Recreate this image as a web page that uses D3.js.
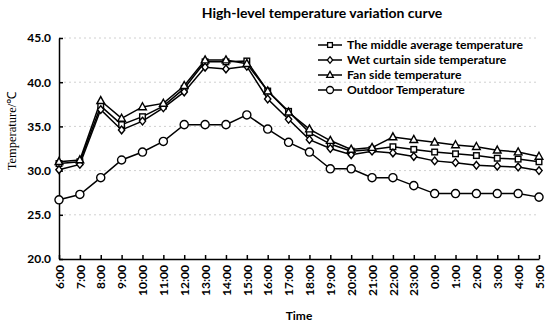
<!DOCTYPE html>
<html>
<head>
<meta charset="utf-8">
<script src="https://cdn.jsdelivr.net/npm/d3@7"></script>
<style>
  body { margin: 0; background: #fff; }
  .axis text { font-family: Lato, "Open Sans", sans-serif; font-weight: bold; font-size: 12px; fill: #000; }
  .axis path, .axis line { stroke: #000; stroke-width: 1.5; }
</style>
</head>
<body>
<div class="chart"></div>
<script>
const hours = ["6:00","7:00","8:00","9:00","10:00","11:00","12:00","13:00","14:00","15:00","16:00","17:00",
  "18:00","19:00","20:00","21:00","22:00","23:00","0:00","1:00","2:00","3:00","4:00","5:00"];
const middleAvg = [30.8,31.0,37.3,35.2,36.1,37.3,39.3,42.3,42.3,42.4,39.0,36.7,34.3,33.0,32.2,32.4,32.7,32.4,32.1,31.9,31.7,31.4,31.3,31.0];
const wetCurtain = [30.1,30.7,36.9,34.6,35.6,37.1,38.9,41.7,41.5,41.8,38.1,35.8,33.5,32.5,31.8,32.2,32.0,31.6,31.1,30.9,30.6,30.5,30.4,30.0];
const fanSide = [31.0,31.2,37.9,35.9,37.2,37.6,39.6,42.5,42.5,42.1,39.0,36.6,34.7,33.4,32.4,32.6,33.8,33.5,33.2,32.9,32.7,32.3,32.1,31.6];
const outdoor = [26.7,27.3,29.2,31.2,32.1,33.3,35.2,35.2,35.2,36.3,34.7,33.2,32.1,30.2,30.2,29.2,29.2,28.3,27.4,27.4,27.4,27.4,27.4,27.0];
const seriesNames = ["The middle average temperature","Wet curtain side temperature","Fan side temperature","Outdoor Temperature"];
const yTicks = [20,25,30,35,40,45];

const seriesData = [middleAvg, wetCurtain, fanSide, outdoor];
const markers = ["square","diamond","triangle","circle"];

const width = 550, height = 327;
const margin = {top: 38, left: 59, right: 11, bottom: 68};

const svg = d3.select('.chart')
  .append('svg')
  .attr('width', width)
  .attr('height', height);

const xScale = d3.scalePoint()
  .domain(hours)
  .range([margin.left, width - margin.right]);

const yScale = d3.scaleLinear()
  .domain([20, 45])
  .range([height - margin.bottom, margin.top]);

// grid lines
svg.append("g")
  .selectAll("line")
  .data(yTicks.slice(1))
  .enter()
  .append("line")
  .attr("x1", margin.left)
  .attr("x2", width - margin.right)
  .attr("y1", d => yScale(d))
  .attr("y2", d => yScale(d))
  .attr("stroke", "#d0d0d0")
  .attr("stroke-width", 1)
  .attr("stroke-dasharray", "2,3");

const xAxis = d3.axisBottom(xScale).tickSizeInner(-4).tickSizeOuter(0).tickPadding(4);
const yAxis = d3.axisLeft(yScale).tickValues(yTicks).tickFormat(d3.format(".1f")).tickSizeInner(-4).tickSizeOuter(0).tickPadding(8);

svg.append("g")
  .attr("class", "axis x-axis")
  .attr("transform", "translate(0," + (height - margin.bottom) + ")")
  .call(xAxis)
  .selectAll("text")
  .attr("transform", "rotate(-90)")
  .attr("text-anchor", "end")
  .attr("dy", "0.35em")
  .attr("x", -6)
  .attr("y", 0);

svg.append("g")
  .attr("class", "axis y-axis")
  .attr("transform", "translate(" + margin.left + ",0)")
  .call(yAxis);

// marker shapes
function drawMarker(sel, type, s) {
  if (type === "circle") {
    sel.append("circle").attr("r", s * 0.58);
  } else if (type === "square") {
    sel.append("rect").attr("x", -s * 0.4).attr("y", -s * 0.4).attr("width", s * 0.8).attr("height", s * 0.8);
  } else if (type === "diamond") {
    sel.append("path").attr("d", `M0,${-s*0.55}L${s*0.45},0L0,${s*0.55}L${-s*0.45},0Z`);
  } else {
    sel.append("path").attr("d", `M0,${-s*0.6}L${s*0.55},${s*0.4}L${-s*0.55},${s*0.4}Z`);
  }
}

const line = d3.line()
  .x((d, i) => xScale(hours[i]))
  .y(d => yScale(d));

// outdoor first, then the others
const order = [3, 0, 1, 2];
order.forEach(k => {
  svg.append("path")
    .datum(seriesData[k])
    .attr("d", line)
    .attr("fill", "none")
    .attr("stroke", "#000")
    .attr("stroke-width", 1.5);
});
order.forEach(k => {
  const g = svg.append("g")
    .selectAll("g")
    .data(seriesData[k])
    .enter()
    .append("g")
    .attr("transform", (d, i) => "translate(" + xScale(hours[i]) + "," + yScale(d) + ")")
    .attr("fill", "#fff")
    .attr("stroke", "#000")
    .attr("stroke-width", 1.4);
  g.each(function() { drawMarker(d3.select(this), markers[k], 7); });
});

// legend
const legend = svg.append("g").attr("transform", "translate(318,45)");
seriesNames.forEach((name, i) => {
  const row = legend.append("g").attr("transform", "translate(0," + (i * 15) + ")");
  row.append("line").attr("x1", 0).attr("x2", 24).attr("y1", 0).attr("y2", 0)
    .attr("stroke", "#000").attr("stroke-width", 1.5);
  const m = row.append("g").attr("transform", "translate(12,0)")
    .attr("fill", "#fff").attr("stroke", "#000").attr("stroke-width", 1.3);
  drawMarker(m, markers[i], 6);
  row.append("text")
    .attr("x", 29)
    .attr("y", 0)
    .attr("dy", "0.35em")
    .attr("font-family", "Lato, sans-serif")
    .attr("font-weight", "bold")
    .attr("font-size", 12.2)
    .text(name);
});

// title
svg.append("text")
  .attr("x", 322)
  .attr("y", 18)
  .attr("text-anchor", "middle")
  .attr("font-family", "Lato, sans-serif")
  .attr("font-weight", "bold")
  .attr("font-size", 14)
  .text("High-level temperature variation curve");

// axis labels
svg.append("text")
  .attr("x", 299)
  .attr("y", 320)
  .attr("text-anchor", "middle")
  .attr("font-family", "Lato, sans-serif")
  .attr("font-weight", "bold")
  .attr("font-size", 12)
  .text("Time");

svg.append("text")
  .attr("transform", "translate(16,131) rotate(-90)")
  .attr("text-anchor", "middle")
  .attr("font-family", "'Liberation Serif', serif")
  .attr("font-size", 12.5)
  .text("Temperature/℃");
</script>
</body>
</html>
